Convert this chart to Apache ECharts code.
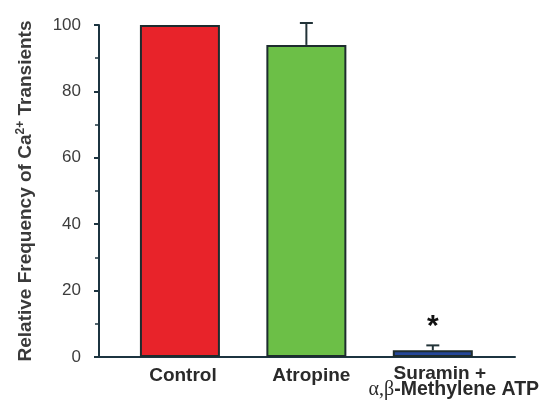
<!DOCTYPE html>
<html>
<head>
<meta charset="utf-8">
<script src="https://cdn.jsdelivr.net/npm/echarts@6/dist/echarts.min.js"></script>
<style>html,body{margin:0;padding:0;background:#fff;}#c{width:550px;height:406px;}</style>
</head>
<body>
<div id="c"></div>
<script>
const categories = ['Control', 'Atropine', 'Suramin +|α,β|-Methylene ATP'];
const values = [100, 94, 2];
const errors = [0, 6.6, 1.5];
const marks = ['', '', '*'];
const yTicks = [0, 20, 40, 60, 80, 100];
const barColors = ['#e8232a', '#6cbf47', '#24479a'];

const chart = echarts.init(document.getElementById('c'), null, {renderer: 'canvas'});
const pos = categories.map((c, i) => i + 1);
const xMin = 0.36, xMax = 3.65;

const option = {
  backgroundColor: '#fff',
  animation: false,
  grid: {left: 99, right: 35, top: 25, bottom: 49},
  xAxis: {
    type: 'value', min: xMin, max: xMax,
    axisLine: {show: true, lineStyle: {color: '#1c3440', width: 2}},
    axisTick: {show: false},
    splitLine: {show: false},
    axisLabel: {
      customValues: [xMin].concat(pos, [xMax]),
      hideOverlap: false,
      margin: 9,
      formatter: function (v) {
        const i = Math.round(v) - 1;
        if (Math.abs(v - Math.round(v)) > 1e-6 || i < 0 || i >= categories.length) return '';
        const c = categories[i];
        if (i === 0) return '{c0|' + c + '}';
        if (i === 1) return '{c1|' + c + '}';
        const p = c.split('|');
        return '{l1|' + p[0] + '}\n{g|' + p[1] + '}{b|' + p[2] + '}';
      },
      rich: {
        c0: {fontFamily: 'Liberation Sans', fontWeight: 'bold', fontSize: 19, color: '#2a2a2a', padding: [0, 0, 0, 6]},
        c1: {fontFamily: 'Liberation Sans', fontWeight: 'bold', fontSize: 19, color: '#2a2a2a', padding: [0, 0, 0, 10]},
        l1: {fontFamily: 'Liberation Sans', fontWeight: 'bold', fontSize: 19, color: '#2a2a2a', lineHeight: 16, padding: [0, 0, 0, 14]},
        g: {fontFamily: 'Liberation Serif', fontSize: 20, color: '#2a2a2a', lineHeight: 16, padding: [0, 0, 0, 42]},
        b: {fontFamily: 'Liberation Sans', fontWeight: 'bold', fontSize: 19.5, color: '#2a2a2a', lineHeight: 16}
      }
    }
  },
  yAxis: {
    type: 'value', min: 0, max: 100, interval: 20,
    axisLine: {show: true, lineStyle: {color: '#1c3440', width: 2}},
    axisTick: {show: true, length: 5, lineStyle: {color: '#1c3440', width: 2}},
    minorTick: {show: true, splitNumber: 2, length: 4, lineStyle: {color: '#1c3440', width: 1.5}},
    splitLine: {show: false},
    axisLabel: {
      margin: 18, fontFamily: 'Liberation Sans', fontSize: 17, color: '#3d3d3d',
      formatter: function (v) { return yTicks.indexOf(v) >= 0 ? String(v) : ''; }
    },
    name: '{t|Relative Frequency of Ca}{s|2+}{t| Transients}',
    nameLocation: 'middle',
    nameGap: 63,
    nameTextStyle: {
      rich: {
        t: {fontFamily: 'Liberation Sans', fontWeight: 'bold', fontSize: 19, color: '#3a3a3a', lineHeight: 21},
        s: {fontFamily: 'Liberation Sans', fontWeight: 'bold', fontSize: 12, color: '#3a3a3a', verticalAlign: 'top', lineHeight: 21}
      }
    }
  },
  series: [
    {
      type: 'bar',
      barWidth: 80,
      data: values.map((v, i) => ({
        value: [pos[i], v],
        itemStyle: {color: barColors[i], borderColor: '#1d2c2e', borderWidth: 2},
        label: {
          show: marks[i] !== '', position: 'top', distance: 9,
          formatter: marks[i], fontFamily: 'Liberation Sans', fontWeight: 'bold', fontSize: 30, color: '#111'
        }
      }))
    },
    {
      type: 'custom',
      clip: false,
      z: 3,
      data: values.map((v, i) => [pos[i], v, v + errors[i]]),
      renderItem: function (params, api) {
        const x = api.value(0), v = api.value(1), t = api.value(2);
        if (t <= v) return null;
        const p0 = api.coord([x, v]);
        const p1 = api.coord([x, t]);
        const s = {stroke: '#223338', lineWidth: 2};
        return {
          type: 'group',
          children: [
            {type: 'line', shape: {x1: p0[0], y1: p0[1], x2: p1[0], y2: p1[1]}, style: s},
            {type: 'line', shape: {x1: p1[0] - 6.5, y1: p1[1], x2: p1[0] + 6.5, y2: p1[1]}, style: s}
          ]
        };
      }
    }
  ]
};
chart.setOption(option);
</script>
</body>
</html>
